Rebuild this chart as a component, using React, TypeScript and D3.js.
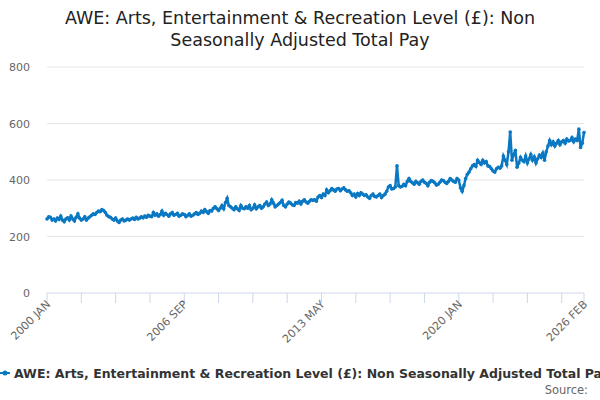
import * as d3 from 'd3'

// monthly values, Jan 2000 .. Feb 2026
const y2000 = [262, 270, 268, 258, 262, 255, 265, 260, 272, 258, 252, 262]
const y2001 = [266, 258, 272, 262, 255, 268, 280, 265, 258, 262, 270, 258]
const y2002 = [265, 270, 275, 280, 278, 285, 290, 288, 295, 292, 285, 275]
const y2003 = [270, 268, 262, 258, 265, 255, 250, 258, 262, 255, 258, 262]
const y2004 = [258, 262, 265, 260, 268, 262, 265, 270, 266, 272, 268, 275]
const y2005 = [272, 270, 285, 275, 280, 272, 278, 290, 275, 282, 278, 272]
const y2006 = [280, 285, 275, 278, 282, 272, 275, 280, 278, 270, 275, 280]
const y2007 = [272, 275, 280, 285, 278, 282, 290, 285, 295, 288, 282, 292]
const y2008 = [290, 300, 305, 298, 292, 300, 310, 298, 320, 335, 310, 305]
const y2009 = [300, 295, 305, 298, 292, 310, 300, 298, 305, 300, 310, 295]
const y2010 = [300, 312, 298, 305, 310, 300, 305, 315, 322, 310, 315, 330]
const y2011 = [318, 305, 310, 315, 320, 328, 310, 305, 315, 322, 318, 312]
const y2012 = [310, 320, 318, 325, 315, 325, 330, 322, 318, 325, 330, 328]
const y2013 = [330, 325, 340, 345, 338, 350, 345, 365, 355, 362, 370, 365]
const y2014 = [360, 368, 370, 362, 368, 372, 365, 360, 362, 355, 345, 350]
const y2015 = [340, 352, 345, 355, 350, 345, 348, 340, 335, 345, 350, 342]
const y2016 = [340, 345, 350, 338, 345, 350, 360, 375, 380, 368, 370, 375]
const y2017 = [450, 380, 375, 378, 385, 380, 395, 405, 395, 390, 385, 395]
const y2018 = [390, 385, 395, 400, 392, 388, 380, 392, 398, 395, 390, 382]
const y2019 = [385, 392, 400, 398, 392, 388, 395, 405, 400, 395, 392, 405]
const y2020 = [400, 372, 360, 380, 405, 420, 428, 440, 450, 455, 448, 470]
const y2021 = [462, 455, 470, 460, 465, 450, 448, 440, 432, 428, 440, 445]
const y2022 = [442, 450, 485, 470, 455, 500, 570, 470, 490, 505, 445, 460]
const y2023 = [480, 470, 465, 485, 460, 475, 490, 470, 482, 460, 475, 488]
const y2024 = [480, 495, 470, 500, 520, 540, 525, 535, 520, 530, 540, 525]
const y2025 = [535, 540, 530, 545, 538, 540, 550, 535, 545, 540, 580, 515]
const y2026 = [530, 568]
const values = [
  ...y2000, ...y2001, ...y2002, ...y2003, ...y2004, ...y2005, ...y2006, ...y2007,
  ...y2008, ...y2009, ...y2010, ...y2011, ...y2012, ...y2013, ...y2014, ...y2015,
  ...y2016, ...y2017, ...y2018, ...y2019, ...y2020, ...y2021, ...y2022, ...y2023,
  ...y2024, ...y2025, ...y2026,
]
const yTicks = [0, 200, 400, 600, 800]
const xLabels = ['2000 JAN', '2006 SEP', '2013 MAY', '2020 JAN', '2026 FEB']
const labelIdx = [0, 80, 160, 240, values.length - 1]

const title1 = 'AWE: Arts, Entertainment & Recreation Level (£): Non'
const title2 = 'Seasonally Adjusted Total Pay'
const seriesName = 'AWE: Arts, Entertainment & Recreation Level (£): Non Seasonally Adjusted Total Pay'

const W = 600
const H = 400
const font = '"DejaVu Sans", sans-serif'
const blue = '#0a78c2'

export default function App() {
  const x = d3.scaleLinear().domain([0, values.length - 1]).range([47, 584])
  const y = d3.scaleLinear().domain([0, 800]).range([293, 67])
  const line = d3.line<number>().x((_, i) => x(i)).y(d => y(d))
  const tickIdx = d3.range(0, values.length, 20)

  return (
    <svg width={W} height={H} style={{ position: 'absolute', left: 0, top: 0, fontFamily: font }}>
      <rect width={W} height={H} fill="#fff" />
      <text x={W / 2} y={24} textAnchor="middle" fontSize={17.5} fill="#222">{title1}</text>
      <text x={W / 2} y={46} textAnchor="middle" fontSize={17.5} fill="#222">{title2}</text>
      {yTicks.map(t => (
        <g key={t}>
          <line x1={47} x2={584} y1={y(t)} y2={y(t)} stroke={t === 0 ? '#ccd6eb' : '#e6e6e6'} />
          <text x={30} y={y(t) + 4} textAnchor="end" fontSize={11} fill="#666">{t}</text>
        </g>
      ))}
      {[...tickIdx, values.length - 1].map(i => (
        <line key={i} x1={x(i)} x2={x(i)} y1={293} y2={303} stroke="#ccd6eb" />
      ))}
      {labelIdx.map((i, k) => (
        <text key={k} transform={`translate(${x(i) + 4},${305}) rotate(-45)`} textAnchor="end"
          fontSize={11} fill="#666">{xLabels[k]}</text>
      ))}
      <path d={line(values) ?? ''} fill="none" stroke={blue} strokeWidth={2.5} />
      {values.map((v, i) => (
        <circle key={i} cx={x(i)} cy={y(v)} r={1.8} fill={blue} />
      ))}
      <line x1={0} x2={10} y1={373} y2={373} stroke={blue} strokeWidth={2} />
      <circle cx={5} cy={373} r={2.5} fill={blue} />
      <text x={14} y={378} fontSize={12.5} fontWeight="bold" fill="#333">{seriesName}</text>
      <text x={588} y={394} textAnchor="end" fontSize={11.5} fill="#666">Source:</text>
    </svg>
  )
}
